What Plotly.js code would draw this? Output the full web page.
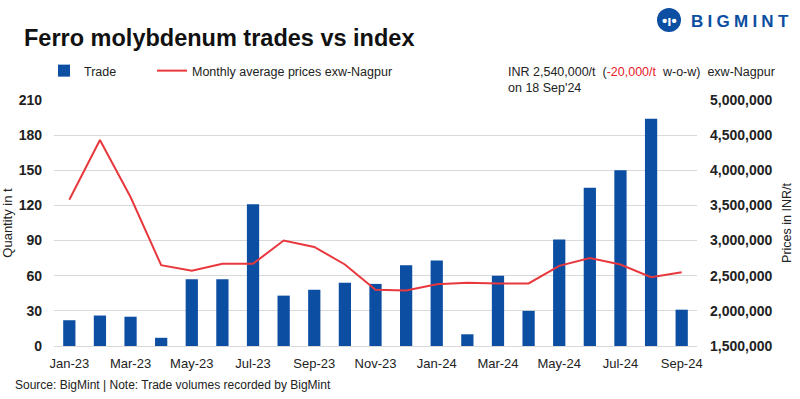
<!DOCTYPE html>
<html>
<head>
<meta charset="utf-8">
<script src="https://cdn.plot.ly/plotly-3.0.1.min.js"></script>
<style>html,body{margin:0;padding:0;background:#fff;}#chart{width:800px;height:399px;}</style>
</head>
<body>
<div id="chart"></div>
<script>
const months = ["Jan-23","Feb-23","Mar-23","Apr-23","May-23","Jun-23","Jul-23","Aug-23","Sep-23","Oct-23","Nov-23","Dec-23",
                "Jan-24","Feb-24","Mar-24","Apr-24","May-24","Jun-24","Jul-24","Aug-24","Sep-24"];
const tradeQty = [22,26,25,7,57,57,121,43,48,54,53,69,73,10,60,30,91,135,150,194,31];
const avgPrice = [3580000,4430000,3620000,2650000,2570000,2670000,2670000,3000000,2910000,2660000,2300000,2290000,
                  2380000,2400000,2390000,2390000,2640000,2750000,2660000,2480000,2550000];
const tickMonths = ["Jan-23","Mar-23","May-23","Jul-23","Sep-23","Nov-23","Jan-24","Mar-24","May-24","Jul-24","Sep-24"];

const sans = "Liberation Sans, Arial, sans-serif";
const blue = "#0b4ea2";
const red = "#e8383d";
const txt = "#222";

const traces = [
  {type:"bar", name:"Trade", x:months, y:tradeQty, marker:{color:blue}, yaxis:"y", legend:"legend"},
  {type:"scatter", mode:"lines", name:"Monthly average prices exw-Nagpur", x:months, y:avgPrice,
   line:{color:red, width:2}, yaxis:"y2", legend:"legend2"}
];

const px = v => (v-54)/643;
const py = v => (346-v)/246;

const legendBase = {orientation:"h", xanchor:"left", yanchor:"middle", y:py(71),
  font:{family:sans, size:12.5, color:txt}, bgcolor:"rgba(0,0,0,0)", borderwidth:0};

const layout = {
  width:800, height:399,
  margin:{l:54, r:103, t:100, b:53},
  paper_bgcolor:"#fff", plot_bgcolor:"#fff",
  bargap:0.6,
  showlegend:true,
  legend:Object.assign({}, legendBase, {x:px(44)}),
  legend2:Object.assign({}, legendBase, {x:px(152)}),
  title:{text:"Ferro molybdenum trades vs index", x:24/800, xanchor:"left", xref:"container",
         y:1-38/399, yanchor:"middle", yref:"container",
         font:{family:sans, size:23.5, color:"#111", weight:"bold"}},
  xaxis:{type:"category", tickvals:tickMonths, ticktext:tickMonths, showgrid:false, zeroline:false,
         showline:true, linecolor:"#d9d9d9", linewidth:1, ticks:"", ticklabelstandoff:5,
         tickfont:{family:sans, size:13, color:txt}, range:[-0.5, 20.5]},
  yaxis:{range:[0,210], dtick:30, showgrid:true, gridcolor:"#d9d9d9", zeroline:false, ticks:"",
         tickfont:{family:sans, size:14, color:txt, weight:"bold"}, ticklabelstandoff:11,
         title:{text:"Quantity in t", font:{family:sans, size:13, color:txt}, standoff:3}},
  yaxis2:{overlaying:"y", side:"right", range:[1500000,5000000], dtick:500000, tickformat:",",
          showgrid:false, zeroline:false, ticks:"",
          tickfont:{family:sans, size:14, color:txt, weight:"bold"}, ticklabelstandoff:12,
          title:{text:"Prices in INR/t", font:{family:sans, size:12.5, color:txt}, standoff:10}},
  annotations:[
    {xref:"paper", yref:"paper", x:px(506), y:py(63), xanchor:"left", yanchor:"top", align:"left",
     showarrow:false, font:{family:sans, size:12.5, color:txt},
     text:"INR 2,540,000/t &nbsp;(<span style='color:#e8202a'>-20,000/t</span> &nbsp;w-o-w) &nbsp;exw-Nagpur<br>on 18 Sep'24"},
    {xref:"paper", yref:"paper", x:px(13), y:py(385), xanchor:"left", yanchor:"middle",
     showarrow:false, font:{family:sans, size:12, color:txt},
     text:"Source: BigMint | Note: Trade volumes recorded by BigMint"},
    {xref:"paper", yref:"paper", x:px(689), y:py(21), xanchor:"left", yanchor:"middle",
     showarrow:false, font:{family:sans, size:17, color:blue, weight:"bold"},
     text:"B\u2005I\u2005G\u2005M\u2005I\u2005N\u2005T"},
    {xref:"paper", yref:"paper", x:px(669), y:py(20), xanchor:"center", yanchor:"middle",
     showarrow:false, font:{family:sans, size:15, color:"#fff", weight:"bold"},
     text:"\u2022\u0131\u2022"}
  ],
  shapes:[
    {type:"circle", xref:"paper", yref:"paper", x0:px(657), x1:px(681),
     y0:py(32), y1:py(8), fillcolor:blue, line:{width:0}, layer:"below"}
  ]
};

Plotly.newPlot("chart", traces, layout, {displayModeBar:false, staticPlot:true});
</script>
</body>
</html>
